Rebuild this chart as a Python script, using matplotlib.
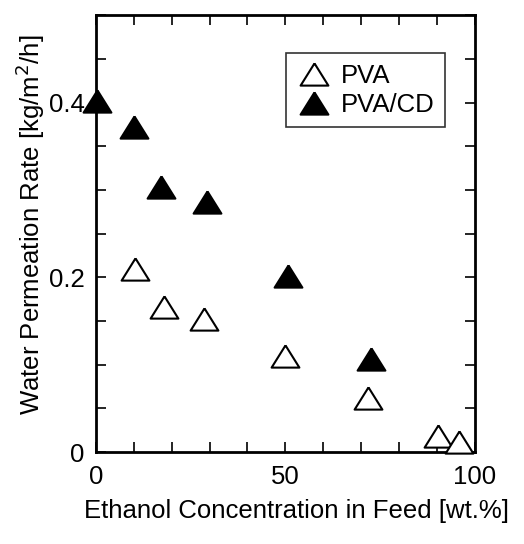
import numpy as np
import matplotlib
matplotlib.use('Agg')
import matplotlib.pyplot as plt
from matplotlib.transforms import Bbox, TransformedBbox

plt.rcParams['font.family'] = ['Liberation Sans', 'DejaVu Sans']

# data
pva_x = [10.3, 17.9, 28.6, 50.0, 71.7, 90.4, 95.8]
pva_y = [0.209, 0.166, 0.152, 0.110, 0.062, 0.018, 0.011]
cd_x = [0.2, 10.1, 17.2, 29.4, 50.7, 72.6, 95.6]
cd_y = [0.402, 0.372, 0.303, 0.286, 0.202, 0.106, 0.004]

tri = [(0, 0.8), (-1, -0.8), (1, -0.8), (0, 0.8)]

fig = plt.figure(figsize=(5.24, 5.44), dpi=100)
ax = fig.add_axes([0.183, 0.169, 0.723, 0.803])

ax.plot(pva_x, pva_y, linestyle='none', marker=tri, markersize=20,
        markerfacecolor='white', markeredgecolor='black', markeredgewidth=1.5,
        label='PVA', clip_on=False, zorder=4)
cd_line, = ax.plot(cd_x, cd_y, linestyle='none', marker=tri, markersize=20,
                   markerfacecolor='black', markeredgecolor='black',
                   markeredgewidth=1.5, label='PVA/CD', zorder=3)
# let the first marker hang over the left spine, but cut at the x axis
cd_line.set_clip_box(TransformedBbox(Bbox([[-0.1, 0], [1.1, 1.1]]), ax.transAxes))

ax.set_xlim(0, 100)
ax.set_ylim(0, 0.5)
ax.set_xticks([0, 50, 100])
ax.set_xticklabels(['0', '50', '100'])
ax.set_xticks(np.arange(0, 101, 10), minor=True)
ax.set_yticks([0, 0.2, 0.4])
ax.set_yticklabels(['0', '0.2', '0.4'])
ax.set_yticks(np.arange(0, 0.51, 0.05), minor=True)

ax.tick_params(which='both', direction='in', top=True, right=True,
               length=7, width=1.2, labelsize=18.5)
ax.tick_params(axis='x', pad=9)
ax.tick_params(axis='y', pad=8)
for s in ax.spines.values():
    s.set_linewidth(2)

ax.set_xlabel('Ethanol Concentration in Feed [wt.%]', fontsize=18.5)
ax.set_ylabel('Water Permeation Rate [kg/m$^2$/h]', fontsize=18.5)
ax.xaxis.set_label_coords(0.53, -0.108)
ax.yaxis.set_label_coords(-0.13, 0.52)

leg = ax.legend(loc='upper right', bbox_to_anchor=(0.921, 0.913), fontsize=18.5,
                frameon=True, fancybox=False, edgecolor='black',
                handletextpad=0.35, handlelength=1.4, borderpad=0.4,
                labelspacing=0.2, borderaxespad=0)
leg.get_frame().set_linewidth(1.2)

fig.savefig('out.png', dpi=100)
